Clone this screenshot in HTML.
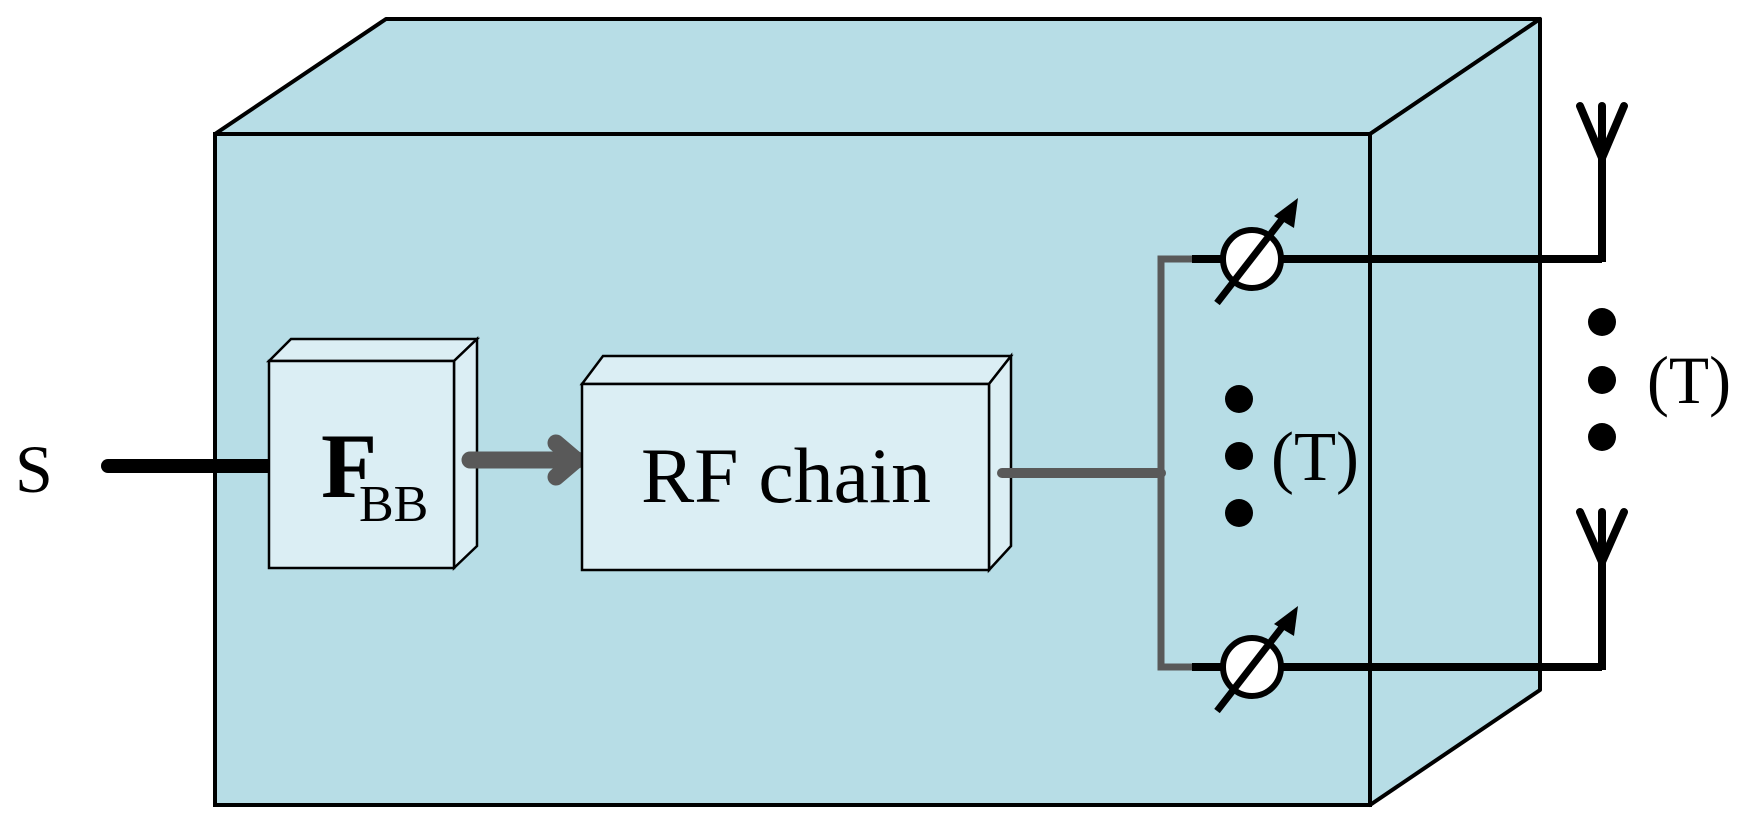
<!DOCTYPE html>
<html><head><meta charset="utf-8"><style>
html,body{margin:0;padding:0;background:#fff;}
svg{display:block;}
text{font-family:"Liberation Serif",serif;fill:#000;}
</style></head><body>
<svg width="1746" height="826" viewBox="0 0 1746 826" xmlns="http://www.w3.org/2000/svg">
<polygon points="215,134 386,19 1540,19 1540,690 1370,805 215,805" fill="#b7dde6"/>
<polygon points="215,134 386,19 1540,19 1370,134" fill="#b7dde6" stroke="#000" stroke-width="4" stroke-linejoin="round"/>
<polygon points="1370,134 1540,19 1540,690 1370,805" fill="#b7dde6" stroke="#000" stroke-width="4" stroke-linejoin="round"/>
<rect x="215" y="134" width="1155" height="671" fill="#b7dde6" stroke="#000" stroke-width="4"/>

<text x="15" y="492" font-size="68">S</text>
<line x1="108" y1="466" x2="270" y2="466" stroke="#000" stroke-width="14" stroke-linecap="round"/>

<polygon points="269,361 291,339 477,339 454,361" fill="#dbeef4" stroke="#000" stroke-width="2.5"/>
<polygon points="454,361 477,339 477,546 454,568" fill="#dbeef4" stroke="#000" stroke-width="2.5"/>
<rect x="269" y="361" width="185" height="207" fill="#dbeef4" stroke="#000" stroke-width="2.5"/>
<text x="321" y="497" font-size="92" font-weight="bold">F</text>
<text x="359" y="521" font-size="52">BB</text>

<line x1="470" y1="460" x2="577" y2="460" stroke="#595959" stroke-width="17" stroke-linecap="round"/>
<polyline points="556,443 576,460 556,477" fill="none" stroke="#595959" stroke-width="17" stroke-linecap="round" stroke-linejoin="round"/>

<polygon points="582,384 603,356 1011,356 989,384" fill="#dbeef4" stroke="#000" stroke-width="2.5"/>
<polygon points="989,384 1011,356 1011,546 989,570" fill="#dbeef4" stroke="#000" stroke-width="2.5"/>
<rect x="582" y="384" width="407" height="186" fill="#dbeef4" stroke="#000" stroke-width="2.5"/>
<text x="786" y="502" font-size="78" text-anchor="middle" textLength="290" lengthAdjust="spacingAndGlyphs">RF chain</text>

<line x1="1002" y1="473" x2="1161" y2="473" stroke="#595959" stroke-width="10" stroke-linecap="round"/>
<polyline points="1192,259 1161,259 1161,667 1192,667" fill="none" stroke="#595959" stroke-width="7"/>

<line x1="1192" y1="259" x2="1602" y2="259" stroke="#000" stroke-width="8"/>
<circle cx="1252" cy="259" r="29" fill="#fff" stroke="#000" stroke-width="6"/>
<line x1="1217" y1="303" x2="1283" y2="218" stroke="#000" stroke-width="7"/>
<polygon points="1274,216 1298,198 1294,228" fill="#000"/>
<polyline points="1602,262 1602,153" fill="none" stroke="#000" stroke-width="8"/>
<polyline points="1580,106 1602,158 1624,106" fill="none" stroke="#000" stroke-width="8" stroke-linecap="round"/>
<line x1="1602" y1="106" x2="1602" y2="155" stroke="#000" stroke-width="8" stroke-linecap="round"/>

<line x1="1192" y1="667" x2="1602" y2="667" stroke="#000" stroke-width="8"/>
<circle cx="1252" cy="667" r="29" fill="#fff" stroke="#000" stroke-width="6"/>
<line x1="1217" y1="711" x2="1283" y2="626" stroke="#000" stroke-width="7"/>
<polygon points="1274,624 1298,606 1294,636" fill="#000"/>
<polyline points="1602,670 1602,560" fill="none" stroke="#000" stroke-width="8"/>
<polyline points="1580,512 1602,562 1624,512" fill="none" stroke="#000" stroke-width="8" stroke-linecap="round"/>
<line x1="1602" y1="512" x2="1602" y2="560" stroke="#000" stroke-width="8" stroke-linecap="round"/>

<ellipse cx="1239" cy="399" rx="14" ry="14"/>
<ellipse cx="1239" cy="456" rx="14" ry="14"/>
<ellipse cx="1239" cy="513" rx="14" ry="14"/>
<text x="1271" y="480" font-size="70" textLength="88" lengthAdjust="spacingAndGlyphs">(T)</text>

<ellipse cx="1602" cy="322" rx="14" ry="14"/>
<ellipse cx="1602" cy="380" rx="14" ry="14"/>
<ellipse cx="1602" cy="437" rx="14" ry="14"/>
<text x="1647" y="403" font-size="68" textLength="84" lengthAdjust="spacingAndGlyphs">(T)</text>
</svg>
</body></html>
